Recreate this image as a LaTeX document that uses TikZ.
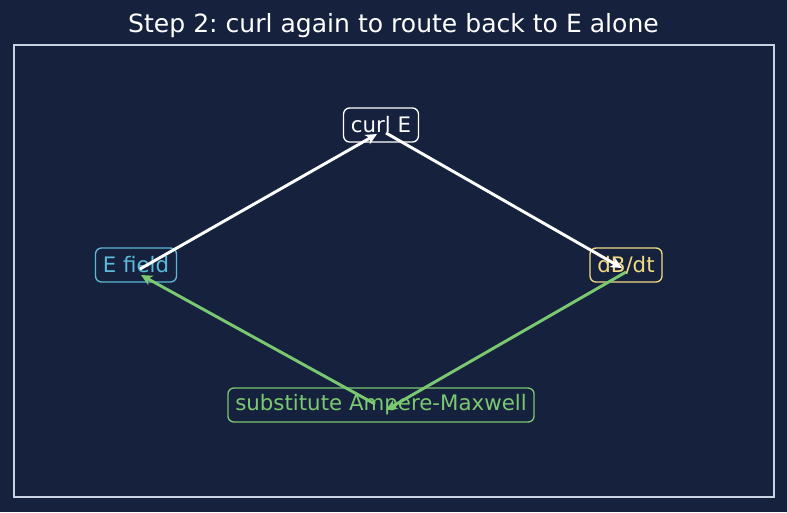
\documentclass[tikz,border=0pt]{standalone}
\usepackage{fontspec}
\setmainfont{DejaVu Sans}
\usetikzlibrary{arrows.meta}
\frenchspacing
\definecolor{bgnavy}{RGB}{22,33,62}
\definecolor{framegray}{RGB}{200,210,226}
\definecolor{efcyan}{RGB}{92,185,215}
\definecolor{dbyellow}{RGB}{240,218,130}
\definecolor{subgreen}{RGB}{122,200,112}
\tikzset{
  stepbox/.style={draw, rounded corners=4.5pt, line width=1pt, fill=bgnavy,
    inner xsep=5.5pt, inner ysep=0pt, minimum height=25.5pt, font=\fontsize{16}{19}\selectfont},
  wire/.style={-{Stealth[length=8.5pt,width=8pt,inset=2.5pt]}, line width=2.2pt},
}
\begin{document}
\begin{tikzpicture}[x=0.75pt, y=-0.75pt]
  % Background and frame
  \fill[bgnavy] (0,0) rectangle (787,512);
  \useasboundingbox (0,0) rectangle (787,512);
  \draw[framegray, line width=1.1pt] (14,45) rectangle (774,497);
  \node[white, font=\fontsize{18.8}{22}\selectfont] (title) at (393.5,26) {Step 2: curl again to route back to E alone};

  % Boxes
  \node[stepbox, draw=white, text=white] (curl) at (381,125) {curl E};
  \node[stepbox, draw=efcyan, text=efcyan] (E) at (136,265) {E field};
  \node[stepbox, draw=dbyellow, text=dbyellow] (dB) at (626,265) {dB/dt};
  \node[stepbox, draw=subgreen, text=subgreen] (sub) at (381,405) {substitute Ampere-Maxwell};

  % Wires
  \draw[wire, white] ([shift={(4,4)}]E.center) -- ([shift={(-4,9)}]curl.center);
  \draw[wire, white] ([shift={(5,8)}]curl.center) -- ([shift={(-4,3)}]dB.center);
  \draw[wire, subgreen] ([shift={(0,7)}]dB.center) -- ([shift={(5,5)}]sub.center);
  \draw[wire, subgreen] ([shift={(-6,-1)}]sub.center) -- ([shift={(5,10)}]E.center);
\end{tikzpicture}
\end{document}
